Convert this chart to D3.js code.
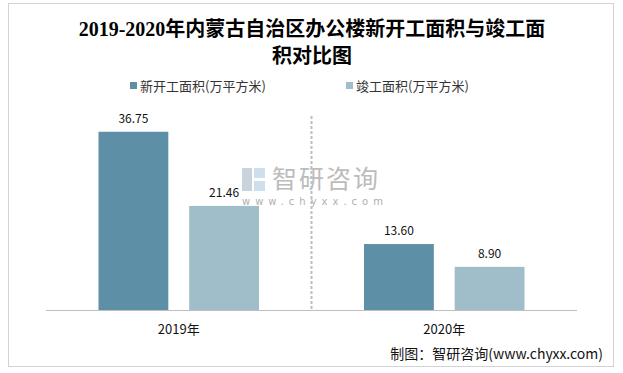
<!DOCTYPE html>
<meta charset="utf-8">
<head>
  <meta charset="utf-8">
  <title>办公楼新开工面积与竣工面积</title>
  <style>
    body { margin: 0; background: #fff; }
    text { font-family: "Noto Sans CJK SC", "Liberation Sans", sans-serif; }
  </style>
</head>
<body>
<script src="https://cdn.jsdelivr.net/npm/d3@7/dist/d3.min.js"></script>
<script>

// data
var years = ["2019年", "2020年"];
var seriesNames = ["新开工面积(万平方米)", "竣工面积(万平方米)"];
var started = [36.75, 13.60];
var completed = [21.46, 8.90];
var colors = ["#5d90a6", "#a0bdca"];

var width = 623, height = 373;

var svg = d3.select("body").append("svg")
    .attr("width", width)
    .attr("height", height);

// outer dotted frame
svg.append("rect")
    .attr("x", 8.5).attr("y", 3.5)
    .attr("width", 605).attr("height", 363)
    .attr("fill", "none")
    .attr("stroke", "#a6a6a6")
    .attr("stroke-dasharray", "1,1");

// title
var title = svg.append("text")
    .attr("text-anchor", "middle")
    .style("font-family", "'Liberation Serif', 'Noto Sans CJK SC', serif")
    .style("font-weight", "bold")
    .style("font-size", "20px")
    .attr("fill", "#000");
title.append("tspan").attr("x", 312).attr("y", 36)
    .text("2019-2020年内蒙古自治区办公楼新开工面积与竣工面");
title.append("tspan").attr("x", 312).attr("y", 63)
    .text("积对比图");

// legend
var legendX = [130, 346];
seriesNames.forEach(function(name, i) {
  svg.append("rect")
      .attr("x", legendX[i]).attr("y", 82)
      .attr("width", 7).attr("height", 7)
      .attr("fill", colors[i]);
  svg.append("text")
      .attr("x", legendX[i] + 10).attr("y", 90.5)
      .style("font-size", "13px")
      .attr("fill", "#333")
      .text(name);
});

// scales
var x0 = d3.scaleBand().domain(years).range([46, 577]);
var x1 = d3.scaleBand().domain([0, 1]).range([52.5, 213]).paddingInner(0.23);
var y = d3.scaleLinear().domain([0, 40]).range([310, 116]);

// watermark
var wm = svg.append("g").attr("opacity", 0.9);
wm.append("rect").attr("x", 242).attr("y", 168).attr("width", 10).attr("height", 23).attr("fill", "#c4cfdb");
wm.append("rect").attr("x", 254).attr("y", 168).attr("width", 11).attr("height", 10).attr("fill", "#c8dcec");
wm.append("rect").attr("x", 254).attr("y", 181).attr("width", 11).attr("height", 10).attr("fill", "#c8dcec");
wm.append("text")
    .attr("x", 272).attr("y", 188)
    .style("font-size", "25px")
    .attr("fill", "#b5b5b5")
    .attr("letter-spacing", "2px")
    .text("智研咨询");
wm.append("text")
    .attr("x", 242).attr("y", 205)
    .style("font-family", "'DejaVu Sans', sans-serif")
    .style("font-size", "10px")
    .attr("fill", "#a8a8a8")
    .attr("letter-spacing", "5px")
    .text("www.chyxx.com");

// category separator
svg.append("line")
    .attr("x1", x0("2020年")).attr("x2", x0("2020年"))
    .attr("y1", y(40)).attr("y2", y(0))
    .attr("stroke", "#bdbdbd")
    .attr("stroke-width", 2)
    .attr("stroke-dasharray", "3,2");

// bars
var data = [];
years.forEach(function(yr, i) {
  data.push({year: yr, s: 0, v: started[i]});
  data.push({year: yr, s: 1, v: completed[i]});
});

svg.selectAll(".bar")
    .data(data)
    .enter().append("rect")
    .attr("class", "bar")
    .attr("x", function(d) { return x0(d.year) + x1(d.s); })
    .attr("width", x1.bandwidth())
    .attr("y", function(d) { return y(d.v); })
    .attr("height", function(d) { return y(0) - y(d.v); })
    .attr("fill", function(d) { return colors[d.s]; });

svg.selectAll(".lbl")
    .data(data)
    .enter().append("text")
    .attr("class", "lbl")
    .attr("x", function(d) { return x0(d.year) + x1(d.s) + x1.bandwidth() / 2; })
    .attr("y", function(d) { return y(d.v) - 9; })
    .attr("text-anchor", "middle")
    .style("font-size", "12px")
    .attr("fill", "#111")
    .text(function(d) { return d.v.toFixed(2); });

// x axis
var xAxis = svg.append("g")
    .attr("transform", "translate(0,310)")
    .call(d3.axisBottom(x0).tickSize(0).tickPadding(15));
xAxis.select(".domain").attr("stroke", "#bfbfbf").attr("d", "M46,0.5H577");
xAxis.selectAll("text")
    .style("font-size", "13px")
    .style("font-family", "'Noto Sans CJK SC', sans-serif")
    .attr("fill", "#111");

// source
svg.append("text")
    .attr("x", 603).attr("y", 359)
    .attr("text-anchor", "end")
    .style("font-size", "14px")
    .attr("fill", "#111")
    .text("制图：智研咨询(www.chyxx.com)");

</script>
</body>
